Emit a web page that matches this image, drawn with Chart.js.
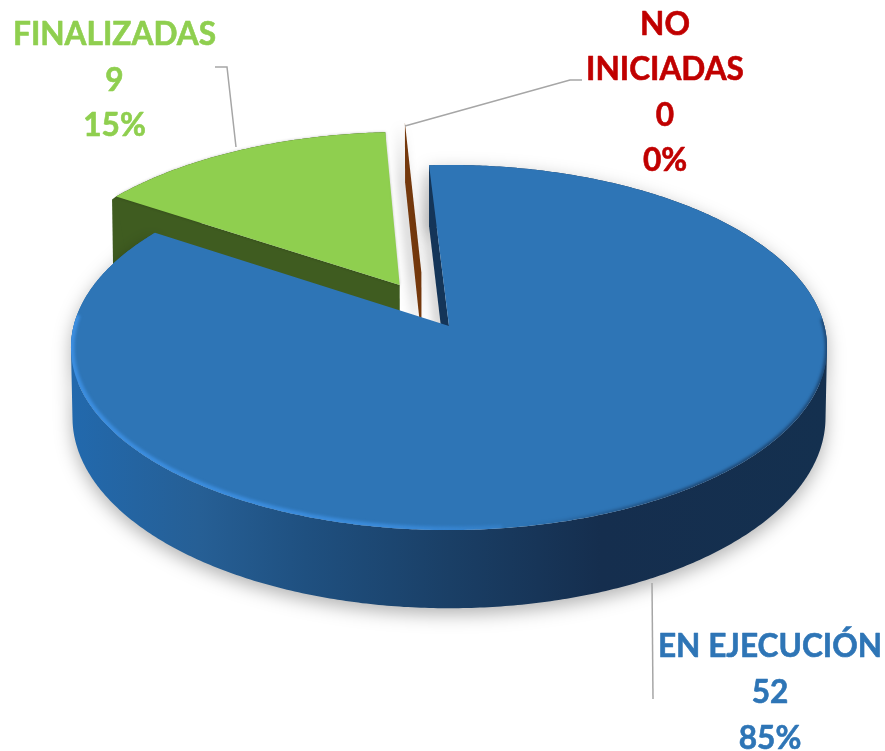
<!DOCTYPE html>
<html><head><meta charset="utf-8">
<script src="https://cdn.jsdelivr.net/npm/chart.js@4/dist/chart.umd.js"></script>
<style>html,body{margin:0;padding:0;background:#fff}canvas{display:block}</style>
</head><body>
<canvas id="c" width="885" height="751"></canvas>
<script>
const categories = ['EN EJECUCIÓN', 'FINALIZADAS', 'NO INICIADAS'];
const values = [52, 9, 0];
const labelLines = [['EN EJECUCIÓN'], ['FINALIZADAS'], ['NO', 'INICIADAS']];
const surfaceColors = ['#2e75b6', '#8fcf4f', '#74380c'];
const labelColors = ['#2e75b6', '#8fcf4f', '#c00000'];
const offsets = [0, 88, 100];
const firstSliceAngle = -3.4;

// projection of the flat disc onto the picture
const view = {cx: 449, cy: 326, rx: 375.4, a: 141.6, c: -0.1178, depth: 69, shrink: 0.996};
const sliverShift = -0.058;
// label layout: centre x, baselines
const labelPos = [
  {x: 770, y: [657, 703, 749]},
  {x: 114.5, y: [45, 91, 136]},
  {x: 665, y: [35, 80, 126, 171]}
];
const leaders = [
  [[652, 583], [653, 699]],
  [[215, 67], [227, 67], [236, 147]],
  [[405, 126], [570, 80], [582, 80]]
];

function proj(u, v, bottom) {
  const w = 1 + view.c * v;
  const k = bottom ? view.shrink : 1;
  return [view.cx + view.rx * k * u / w,
          (view.a * v + view.cy) / w + (bottom ? view.depth / w : 0)];
}
function discGeom(arc) {
  const R = arc.outerRadius;
  const mid = (arc.startAngle + arc.endAngle) / 2;
  const e = (arc.options.offset || 0) / R;
  return {R, ou: e * Math.cos(mid), ov: e * Math.sin(mid), s: arc.startAngle, t: arc.endAngle};
}
function rimPts(g, bottom, from, to) {
  const a0 = from === undefined ? g.s : from, a1 = to === undefined ? g.t : to;
  const n = Math.max(2, Math.ceil(Math.abs(a1 - a0) / 0.01));
  const pts = [];
  for (let i = 0; i <= n; i++) {
    const a = a0 + (a1 - a0) * i / n;
    pts.push(proj(g.ou + Math.cos(a), g.ov + Math.sin(a), bottom));
  }
  return pts;
}
function poly(ctx, pts) {
  ctx.beginPath();
  pts.forEach((p, i) => i ? ctx.lineTo(p[0], p[1]) : ctx.moveTo(p[0], p[1]));
  ctx.closePath();
}
// outer wall as one path of consistently wound strips, so the silhouette is the full sweep
function wallPath(ctx, g) {
  const top = rimPts(g, false), bot = rimPts(g, true);
  ctx.beginPath();
  for (let i = 0; i < top.length - 1; i++) {
    let q = [top[i], top[i + 1], bot[i + 1], bot[i]];
    const area = q.reduce((s, p, k) => {
      const n = q[(k + 1) % 4];
      return s + p[0] * n[1] - n[0] * p[1];
    }, 0);
    if (area < 0) q = q.reverse();
    q.forEach((p, k) => k ? ctx.lineTo(p[0], p[1]) : ctx.moveTo(p[0], p[1]));
    ctx.closePath();
  }
}
function cutWall(ctx, g, ang, color, shadow) {
  const rimT = proj(g.ou + Math.cos(ang), g.ov + Math.sin(ang), false);
  const rimB = proj(g.ou + Math.cos(ang), g.ov + Math.sin(ang), true);
  const apT = proj(g.ou, g.ov, false), apB = proj(g.ou, g.ov, true);
  ctx.save();
  if (shadow) {
    ctx.shadowColor = 'rgba(0,0,0,0.28)'; ctx.shadowBlur = 12; ctx.shadowOffsetX = -5; ctx.shadowOffsetY = 0;
  }
  poly(ctx, [rimT, apT, apB, rimB]);
  ctx.fillStyle = color; ctx.fill();
  ctx.restore();
}

const pie3d = {
  id: 'pie3d',
  beforeDatasetsDraw(chart) {
    const ctx = chart.ctx;
    const arcs = chart.getDatasetMeta(0).data;
    const [blue, green, sliver] = arcs;

    // green slice
    const gg = discGeom(green);
    ctx.fillStyle = '#3f5c20';
    wallPath(ctx, gg); ctx.fill();
    cutWall(ctx, gg, gg.s, '#3f5c20', false);
    const gl = proj(gg.ou + Math.cos(gg.s), gg.ov + Math.sin(gg.s), false);
    ctx.fillStyle = '#3f5c20';
    poly(ctx, [[gl[0] - 4, gl[1] + 3], gl, [gl[0] + 12, gl[1] + 70], [gl[0] - 3, gl[1] + 70]]);
    ctx.fill();
    ctx.save();
    poly(ctx, [proj(gg.ou, gg.ov, false), ...rimPts(gg, false)]);
    ctx.fillStyle = surfaceColors[1];
    ctx.shadowColor = 'rgba(0,0,0,0.25)'; ctx.shadowBlur = 3; ctx.fill();
    ctx.restore();

    // zero slice: only its cut face shows
    const sg = discGeom(sliver);
    sg.ou += sliverShift;
    cutWall(ctx, sg, sg.s, surfaceColors[2], true);

    // blue slice: outer wall
    const bg = discGeom(blue);
    const grad = ctx.createLinearGradient(71, 0, 827, 0);
    grad.addColorStop(0, '#2269ad');
    grad.addColorStop(0.17, '#265f95');
    grad.addColorStop(0.31, '#1f5080');
    grad.addColorStop(0.5, '#1a3f66');
    grad.addColorStop(0.7, '#152e4e');
    grad.addColorStop(1, '#14304f');
    ctx.save();
    ctx.shadowColor = 'rgba(0,0,0,0.30)'; ctx.shadowBlur = 18; ctx.shadowOffsetY = 6;
    wallPath(ctx, bg); ctx.fillStyle = grad; ctx.fill();
    ctx.restore();
    cutWall(ctx, bg, bg.s, '#143558', true);

    // blue slice: top
    poly(ctx, [proj(bg.ou, bg.ov, false), ...rimPts(bg, false)]);
    ctx.fillStyle = surfaceColors[0]; ctx.fill();

    // highlight along the front left edge, soft shaded edge on the right
    ctx.save();
    poly(ctx, [proj(bg.ou, bg.ov, false), ...rimPts(bg, false)]);
    ctx.clip();
    const hl = ctx.createLinearGradient(71, 0, 600, 0);
    hl.addColorStop(0, 'rgba(60,142,224,1)');
    hl.addColorStop(0.6, 'rgba(60,142,224,0.85)');
    hl.addColorStop(1, 'rgba(60,142,224,0)');
    ctx.filter = 'blur(1.4px)';
    ctx.strokeStyle = hl; ctx.lineWidth = 7;
    ctx.beginPath();
    rimPts(bg, false, Math.PI * 0.46, Math.PI * 1.02).forEach((p, i) => i ? ctx.lineTo(p[0], p[1]) : ctx.moveTo(p[0], p[1]));
    ctx.stroke();
    const sh = ctx.createLinearGradient(520, 0, 680, 0);
    sh.addColorStop(0, 'rgba(22,52,88,0)');
    sh.addColorStop(1, 'rgba(22,52,88,0.75)');
    ctx.strokeStyle = sh; ctx.lineWidth = 4;
    ctx.beginPath();
    rimPts(bg, false, Math.PI * 0.46, -0.04).forEach((p, i) => i ? ctx.lineTo(p[0], p[1]) : ctx.moveTo(p[0], p[1]));
    ctx.stroke();
    ctx.restore();
    return false;
  },
  afterDraw(chart) {
    const ctx = chart.ctx;
    const total = values.reduce((a, b) => a + b, 0);
    ctx.save();
    ctx.strokeStyle = '#a6a6a6'; ctx.lineWidth = 1.5;
    leaders.forEach(l => {
      ctx.beginPath();
      l.forEach((p, i) => i ? ctx.lineTo(p[0], p[1]) : ctx.moveTo(p[0], p[1]));
      ctx.stroke();
    });
    ctx.font = '700 31.6px Lato';
    ctx.textAlign = 'center';
    ctx.textBaseline = 'alphabetic';
    ctx.lineWidth = 0.6;
    ctx.lineJoin = 'round';
    categories.forEach((c, i) => {
      const lines = [...labelLines[i], String(values[i]), Math.round(values[i] / total * 100) + '%'];
      ctx.fillStyle = labelColors[i];
      ctx.strokeStyle = labelColors[i];
      lines.forEach((t, j) => {
        ctx.fillText(t, labelPos[i].x, labelPos[i].y[j]);
        ctx.strokeText(t, labelPos[i].x, labelPos[i].y[j]);
      });
    });
    ctx.restore();
  }
};

new Chart(document.getElementById('c'), {
  type: 'pie',
  data: {
    labels: categories,
    datasets: [{data: values, backgroundColor: surfaceColors, offset: offsets, borderWidth: 0}]
  },
  options: {
    responsive: false,
    animation: false,
    rotation: firstSliceAngle,
    layout: {padding: 0},
    plugins: {legend: {display: false}, tooltip: {enabled: false}}
  },
  plugins: [pie3d]
});
</script>
</body></html>
